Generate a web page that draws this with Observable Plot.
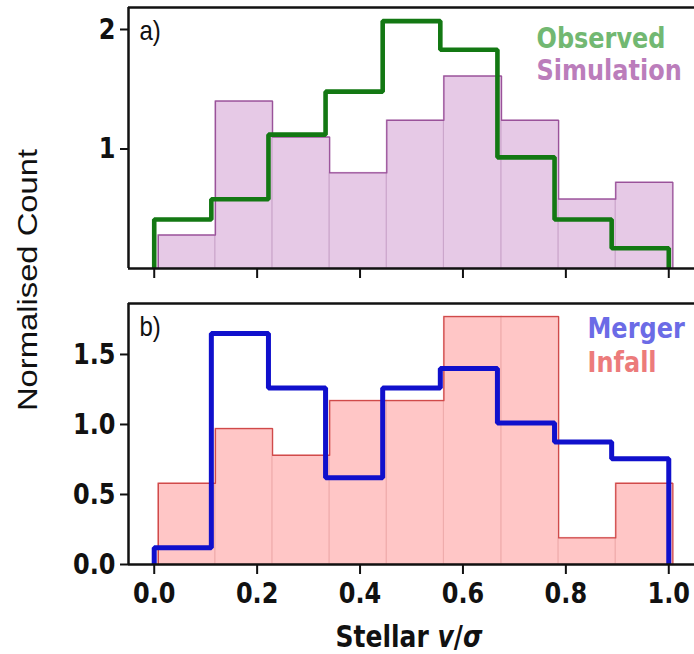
<!DOCTYPE html>
<html>
<head>
<meta charset="utf-8">
<script src="https://cdn.jsdelivr.net/npm/d3@7"></script>
<script src="https://cdn.jsdelivr.net/npm/@observablehq/plot@0.6"></script>
<style>
  html, body { margin: 0; padding: 0; background: #fff; }
  #wrap { position: relative; width: 694px; height: 654px; overflow: hidden; }
  #top { position: absolute; left: 0; top: 0; }
  #bot { position: absolute; left: 0; top: 295px; }
  #ylab { position: absolute; left: 28px; top: 280px; transform: translate(-50%, -50%) scaleY(1.17) rotate(-90deg);
          font-family: "Liberation Sans", Arial, sans-serif; font-size: 28px; white-space: nowrap; color: #111; }
</style>
</head>
<body>
<div id="wrap">
  <div id="top"></div>
  <div id="bot"></div>
  <div id="ylab">Normalised Count</div>
</div>
<script>
// ---- data ----
const edgesObserved   = [0, 0.111, 0.222, 0.333, 0.444, 0.556, 0.667, 0.778, 0.889, 1.0];
const edgesSimulation = [0.008, 0.119, 0.230, 0.341, 0.452, 0.563, 0.675, 0.786, 0.897, 1.008];
const observed   = [0.41, 0.58, 1.12, 1.48, 2.07, 1.83, 0.93, 0.41, 0.17];
const simulation = [0.28, 1.40, 1.10, 0.80, 1.24, 1.61, 1.24, 0.58, 0.72];

const edgesMerger = [0, 0.111, 0.222, 0.333, 0.444, 0.556, 0.667, 0.778, 0.889, 1.0];
const edgesInfall = [0.008, 0.119, 0.230, 0.341, 0.452, 0.563, 0.675, 0.786, 0.897, 1.008];
const merger = [0.12, 1.65, 1.26, 0.62, 1.26, 1.40, 1.01, 0.875, 0.755];
const infall = [0.58, 0.97, 0.78, 1.17, 1.17, 1.77, 1.77, 0.19, 0.58];

const xTicks = [0, 0.2, 0.4, 0.6, 0.8, 1.0];
const xTickLabels = ["0.0", "0.2", "0.4", "0.6", "0.8", "1.0"];
const yTicksTop = [1, 2];
const yTickLabelsTop = ["1", "2"];
const yTicksBot = [0, 0.5, 1.0, 1.5];
const yTickLabelsBot = ["0.0", "0.5", "1.0", "1.5"];

// ---- helpers ----
function bars(edges, vals) {
  return vals.map((v, i) => ({x1: edges[i], x2: edges[i + 1], y: v}));
}
function steps(edges, vals) {
  const pts = [{x: edges[0], y: 0}];
  vals.forEach((v, i) => pts.push({x: edges[i], y: v}));
  pts.push({x: edges[edges.length - 1], y: vals[vals.length - 1]});
  pts.push({x: edges[edges.length - 1], y: 0});
  return pts;
}
// the reference's lettering is slightly taller than wide: stretch each text vertically about its centre
function stretchTexts(svg, s) {
  d3.select(svg).selectAll("text").each(function () {
    const bb = this.getBBox();
    const cx = bb.x + bb.width / 2, cy = bb.y + bb.height / 2;
    const tr = this.getAttribute("transform") || "";
    this.setAttribute("transform", `${tr} translate(${cx},${cy}) scale(1,${s}) translate(${-cx},${-cy})`);
  });
}

const X_DOMAIN = [-0.05, 1.05];
const tickFont = {fontFamily: "DejaVu Sans", fontWeight: "bold", fontSize: 24};

function panel({height, marginTop, marginBottom, yDomain, yTicks, yLabels, showXLabels,
                barData, barFill, barEdge, outline, stepData, stepColor, stepWidth,
                tag, legend}) {
  const xLab = new Map(xTicks.map((t, i) => [t, xTickLabels[i]]));
  const yLab = new Map(yTicks.map((t, i) => [t, yLabels[i]]));
  return Plot.plot({
    width: 694, height,
    marginLeft: 128, marginRight: 0, marginTop, marginBottom,
    style: {fontFamily: "DejaVu Sans", background: "white", color: "#111", overflow: "visible"},
    x: {domain: X_DOMAIN, axis: null},
    y: {domain: yDomain, axis: null},
    marks: [
      Plot.rect(barData, {x1: "x1", x2: "x2", y1: 0, y2: "y", fill: barFill, stroke: barEdge, strokeWidth: 1}),
      Plot.line(steps(barData.map(d => d.x1).concat([barData[barData.length - 1].x2]), barData.map(d => d.y)),
        {x: "x", y: "y", curve: "step-after", stroke: outline, strokeWidth: 1.3}),
      Plot.line(stepData, {x: "x", y: "y", curve: "step-after", stroke: stepColor, strokeWidth: stepWidth, strokeLinejoin: "miter", strokeLinecap: "butt"}),
      // spines
      Plot.ruleX([X_DOMAIN[0]], {stroke: "#111", strokeWidth: 2.5}),
      Plot.ruleY([yDomain[0]], {stroke: "#111", strokeWidth: 2.5, x1: X_DOMAIN[0], x2: X_DOMAIN[1]}),
      Plot.ruleY([yDomain[1]], {stroke: "#111", strokeWidth: 2.5, x1: X_DOMAIN[0], x2: X_DOMAIN[1]}),
      // axes
      Plot.axisX(xTicks, {tickSize: 10, strokeWidth: 2, tickPadding: 10,
        tickFormat: showXLabels ? (d => xLab.get(d)) : (() => ""), ...tickFont, fill: "#111", label: null}),
      Plot.axisY(yTicks, {tickSize: 8, strokeWidth: 2, tickPadding: 5,
        tickFormat: d => yLab.get(d), ...tickFont, fill: "#111", label: null}),
      // panel tag
      Plot.text([tag], {frameAnchor: "top-left", dx: 11, dy: 14, textAnchor: "start", lineAnchor: "top",
        fontFamily: "Liberation Sans", fontSize: 24, fill: "#111"}),
      // legend
      Plot.text([legend[0]], {frameAnchor: "top-left", dx: legend[2], dy: legend[3], textAnchor: "start", lineAnchor: "middle",
        text: d => d.label, fill: d => d.color, fontFamily: "DejaVu Sans", fontWeight: "bold", fontSize: 24}),
      Plot.text([legend[1]], {frameAnchor: "top-left", dx: legend[2], dy: legend[3] + legend[4], textAnchor: "start", lineAnchor: "middle",
        text: d => d.label, fill: d => d.color, fontFamily: "DejaVu Sans", fontWeight: "bold", fontSize: 24})
    ]
  });
}

const topPlot = panel({
  height: 298, marginTop: 7, marginBottom: 30, yDomain: [0, 2.184], yTicks: yTicksTop, yLabels: yTickLabelsTop, showXLabels: false,
  barData: bars(edgesSimulation, simulation), barFill: "#e6c9e6", barEdge: "#caa4ca", outline: "#9a529a",
  stepData: steps(edgesObserved, observed), stepColor: "#137813", stepWidth: 4.6,
  tag: "a)",
  legend: [{label: "Observed", color: "#72b872"}, {label: "Simulation", color: "#bb7dbb"}, 408, 31, 32]
});
document.getElementById("top").appendChild(topPlot);

const botPlot = panel({
  height: 359, marginTop: 8, marginBottom: 90, yDomain: [0, 1.864], yTicks: yTicksBot, yLabels: yTickLabelsBot, showXLabels: true,
  barData: bars(edgesInfall, infall), barFill: "#ffc6c6", barEdge: "#eeaaaa", outline: "#d04a4a",
  stepData: steps(edgesMerger, merger), stepColor: "#1010cc", stepWidth: 5,
  tag: "b)",
  legend: [{label: "Merger", color: "#6b6be6"}, {label: "Infall", color: "#ec7b7b"}, 459, 25, 34]
});
document.getElementById("bot").appendChild(botPlot);

// x-axis title
const t = d3.select(botPlot).append("text")
  .attr("x", 409).attr("y", 351)
  .attr("text-anchor", "middle")
  .attr("font-family", "DejaVu Sans").attr("font-weight", "bold").attr("font-size", 25).attr("fill", "#111");
t.append("tspan").text("Stellar ");
t.append("tspan").attr("font-style", "italic").text("v");
t.append("tspan").text("/");
t.append("tspan").attr("font-style", "italic").text("σ");

stretchTexts(topPlot, 1.17);
stretchTexts(botPlot, 1.17);
</script>
</body>
</html>
